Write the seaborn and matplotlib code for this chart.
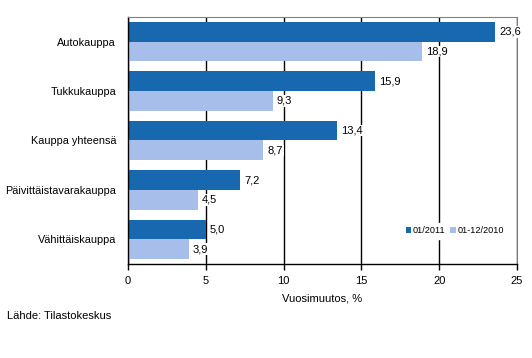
import pandas as pd
import seaborn as sns
from matplotlib import pyplot as plt
from matplotlib.patches import Patch

categories = ["Autokauppa", "Tukkukauppa", "Kauppa yhteensä",
              "Päivittäistavarakauppa", "Vähittäiskauppa"]
jan_2011 = [23.6, 15.9, 13.4, 7.2, 5.0]
year_2010 = [18.9, 9.3, 8.7, 4.5, 3.9]
series_names = ["01/2011", "01-12/2010"]
colors = ["#1868B0", "#A7BEEA"]

df = pd.DataFrame({
    "Kauppa": categories * 2,
    "Muutos": jan_2011 + year_2010,
    "Jakso": [series_names[0]] * len(categories) + [series_names[1]] * len(categories),
})

sns.set_style("white")
plt.rcParams['font.family'] = ['Liberation Sans', 'DejaVu Sans']
plt.rcParams['text.color'] = 'black'
plt.rcParams['xtick.color'] = 'black'
plt.rcParams['ytick.color'] = 'black'
plt.rcParams['axes.labelcolor'] = 'black'

fig = plt.figure(figsize=(5.32, 3.58), dpi=100)
ax = fig.add_axes([0.2406, 0.2626, 0.7312, 0.6899])

sns.barplot(data=df, y="Kauppa", x="Muutos", hue="Jakso", orient="h",
            palette=colors, width=0.8, saturation=1, ax=ax, legend=False,
            linewidth=0, zorder=2)

# value labels, comma as decimal separator
for cont in ax.containers:
    labels = [f"{v:.1f}".replace(".", ",") for v in cont.datavalues]
    texts = ax.bar_label(cont, labels=labels, padding=3, fontsize=8, color="black")
    for t in texts:
        t.set_bbox(dict(facecolor="white", edgecolor="none", pad=0.6))

ax.set_xlim(0, 25)
ax.set_xticks([0, 5, 10, 15, 20, 25])
ax.xaxis.grid(True, color="black", linewidth=1)
ax.yaxis.grid(False)
ax.set_axisbelow(True)

for side in ["top", "right"]:
    ax.spines[side].set_color("#808080")
for side in ["left", "bottom"]:
    ax.spines[side].set_color("black")
    ax.spines[side].set_linewidth(1)

ax.tick_params(axis="x", bottom=True, length=4, width=1, color="black",
               labelsize=8, pad=5)
ax.tick_params(axis="y", left=False, labelsize=7.8, pad=5)
ax.set_ylabel("")
ax.set_xlabel("Vuosimuutos, %", fontsize=8, labelpad=5)

handles = [Patch(facecolor=c, edgecolor="none") for c in colors]
leg = ax.legend(handles, series_names, loc="center", bbox_to_anchor=(0.84, 0.134),
                frameon=True, fontsize=6.6, handlelength=0.6, handleheight=0.6,
                handletextpad=0.2, columnspacing=0.5, ncol=2, borderpad=0.4)
leg.get_frame().set_edgecolor("white")
leg.get_frame().set_facecolor("white")
leg.get_frame().set_alpha(1)

fig.text(0.013, 0.117, "Lähde: Tilastokeskus", fontsize=8, va="center")

fig.savefig("out.png", dpi=100)
